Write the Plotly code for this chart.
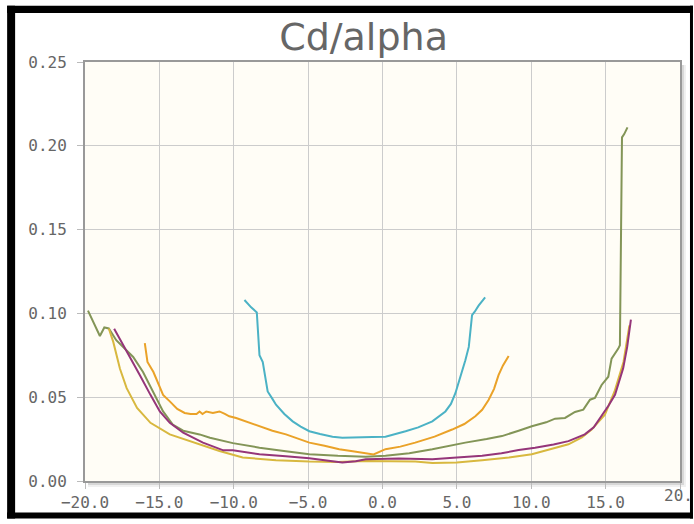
import plotly.graph_objects as go

# ---------------- data ----------------
cyan_a = [-9.28, -8.83, -8.45, -8.27, -8.05, -7.9, -7.72, -7.4, -7.16, -6.6, -6.04, -5.5, -4.92, -4.2,
          -3.36, -2.7, -2.0, -1.3, -0.68, 0.2, 0.9, 1.55, 2.4, 3.35, 4.23, 4.6, 4.9, 5.2, 5.57, 5.8,
          6.02, 6.2, 6.46, 6.9]
cyan_cd = [0.108, 0.1036, 0.1006, 0.075, 0.071, 0.062, 0.0534, 0.049, 0.0455, 0.040, 0.0356, 0.0325,
           0.0297, 0.028, 0.0264, 0.0258, 0.0258, 0.0262, 0.0262, 0.0264, 0.028, 0.0297, 0.032, 0.0356,
           0.0415, 0.046, 0.0524, 0.061, 0.072, 0.080, 0.099, 0.101, 0.1046, 0.1095]

orange_a = [-15.98, -15.8, -15.4, -14.75, -14.3, -13.8, -13.3, -12.9, -12.5, -12.3, -12.1, -11.85,
            -11.4, -10.96, -10.6, -10.3, -9.84, -9.0, -8.27, -7.4, -6.49, -5.7, -4.92, -3.9, -2.91,
            -2.0, -1.13, -0.6, 0.2, 1.2, 2.2, 3.5, 4.68, 5.5, 6.24, 6.7, 7.14, 7.5, 7.8, 8.1, 8.48]
orange_cd = [0.0823, 0.071, 0.065, 0.0514, 0.0475, 0.043, 0.0406, 0.040, 0.040, 0.0415, 0.040, 0.0415,
             0.0406, 0.0415, 0.040, 0.0386, 0.0376, 0.035, 0.0327, 0.030, 0.0278, 0.0255, 0.0229, 0.021,
             0.0189, 0.0177, 0.0165, 0.0158, 0.019, 0.0205, 0.0229, 0.0265, 0.0307, 0.034, 0.0386,
             0.0425, 0.0485, 0.055, 0.0632, 0.069, 0.0746]

green_a = [-19.8, -19.4, -19.0, -18.7, -18.4, -17.9, -17.1, -16.76, -16.1, -15.4, -14.75, -14.1, -13.4,
           -12.3, -11.6, -10.06, -8.27, -6.5, -4.92, -3.0, -1.13, 0.2, 1.8, 3.35, 5.57, 7.0, 8.03, 9.15,
           10.04, 11.0, 11.6, 12.27, 12.94, 13.5, 13.95, 14.28, 14.73, 15.18, 15.4, 15.85, 15.96, 16.1,
           16.25, 16.47]
green_cd = [0.1017, 0.094, 0.0865, 0.0916, 0.091, 0.084, 0.0766, 0.074, 0.065, 0.053, 0.0415, 0.0337,
            0.030, 0.0278, 0.0258, 0.0226, 0.0199, 0.0178, 0.016, 0.015, 0.0144, 0.015, 0.0165, 0.0189,
            0.0229, 0.025, 0.0268, 0.030, 0.0327, 0.035, 0.0372, 0.0376, 0.0412, 0.0426, 0.0485, 0.0495,
            0.0573, 0.0622, 0.073, 0.079, 0.081, 0.205, 0.207, 0.211]

purple_a = [-18.04, -17.6, -17.2, -16.3, -15.6, -14.97, -14.3, -13.4, -12.07, -10.7, -10.06, -9.2,
            -8.27, -6.5, -4.92, -3.5, -2.7, -1.8, -1.13, 1.1, 3.35, 5.0, 6.7, 8.0, 9.15, 10.26, 11.5,
            12.5, 13.6, 14.2, 14.73, 15.2, 15.63, 16.18, 16.45, 16.7]
purple_cd = [0.0908, 0.084, 0.077, 0.063, 0.0514, 0.0415, 0.0347, 0.0288, 0.0229, 0.0183, 0.0183,
             0.0172, 0.016, 0.0148, 0.0136, 0.012, 0.011, 0.0118, 0.013, 0.0134, 0.013, 0.014, 0.015,
             0.0165, 0.0185, 0.0199, 0.0218, 0.0238, 0.0278, 0.032, 0.0386, 0.045, 0.0514, 0.0672,
             0.080, 0.0963]

yellow_a = [-18.4, -18.1, -17.65, -17.2, -16.5, -15.6, -14.3, -12.7, -10.96, -9.4, -7.16, -4.92, -3.0,
            -1.13, 0.5, 2.2, 3.35, 5.0, 6.7, 8.5, 10.04, 11.3, 12.5, 13.4, 14.06, 14.95, 15.6, 16.2, 16.6]
yellow_cd = [0.091, 0.083, 0.067, 0.0554, 0.0436, 0.0347, 0.0278, 0.0229, 0.0179, 0.014, 0.0124,
             0.0116, 0.0113, 0.012, 0.0118, 0.0116, 0.0108, 0.011, 0.0124, 0.014, 0.016, 0.019, 0.0219,
             0.026, 0.0307, 0.0396, 0.0534, 0.071, 0.0928]

x_ticks = [-20, -15, -10, -5, 0, 5, 10, 15, 20]
y_ticks = [0.00, 0.05, 0.10, 0.15, 0.20, 0.25]
last_x_label = "20."   # right-most x tick label, cut off by the frame in the reference

series = [
    ("green", green_a, green_cd, "#839557"),
    ("yellow", yellow_a, yellow_cd, "#d8b83f"),
    ("purple", purple_a, purple_cd, "#953579"),
    ("orange", orange_a, orange_cd, "#EAA228"),
    ("cyan", cyan_a, cyan_cd, "#4bb2c5"),
]

# ---------------- layout geometry (pixels) ----------------
FW, FH = 694, 524
L, R, T, B = 85, 681, 62, 486
PW, PH = R - L, B - T


def px(x):
    return (x - L) / PW


def py(y):
    return (B - y) / PH


fig = go.Figure()
for name, a, cd, col in series:
    fig.add_trace(go.Scatter(x=a, y=cd, mode="lines", name=name,
                             line=dict(color=col, width=2), showlegend=False))

shapes = []
# plot shadow (right and bottom)
for off, op in [(2, 0.16), (4, 0.10), (6, 0.06)]:
    shapes.append(dict(type="rect", xref="paper", yref="paper", layer="below",
                       x0=px(R), x1=px(R + off), y0=py(B + off), y1=py(T + 3),
                       fillcolor="rgba(0,0,0,%.2f)" % op, line=dict(width=0)))
    shapes.append(dict(type="rect", xref="paper", yref="paper", layer="below",
                       x0=px(L + 3), x1=px(R), y0=py(B + off), y1=py(B),
                       fillcolor="rgba(0,0,0,%.2f)" % op, line=dict(width=0)))
# black frame
for x0, x1, y0, y1 in [(7, FW, 5, 12.5), (7, 15, 5, FH), (691, FW, 5, FH),
                       (7, FW, 518, FH)]:
    shapes.append(dict(type="rect", xref="paper", yref="paper", layer="above",
                       x0=px(x0), x1=px(x1), y0=py(y1), y1=py(y0),
                       fillcolor="black", line=dict(width=0)))

tickfont = dict(family="DejaVu Sans Mono", size=16, color="#666666")

fig.update_layout(
    width=FW, height=FH,
    margin=dict(l=L, r=FW - R, t=T, b=FH - B, pad=0),
    paper_bgcolor="white",
    plot_bgcolor="#fffdf6",
    title=dict(text="Cd/alpha", x=px(364), xref="paper", xanchor="center",
               y=1 - 37 / FH, yref="container", yanchor="middle",
               font=dict(family="DejaVu Sans", size=38, color="#666666")),
    xaxis=dict(range=[-20, 20], tickvals=x_ticks, tickformat=".1f", showgrid=True,
               gridcolor="#cccccc", gridwidth=1, zeroline=False, ticks="outside", ticklen=6,
               tickcolor="#bbbbbb", showline=True, linecolor="#999999", linewidth=2, mirror=True,
               tickfont=tickfont),
    yaxis=dict(range=[0, 0.25], tickvals=y_ticks, tickformat=".2f", showgrid=True,
               gridcolor="#cccccc", gridwidth=1, zeroline=False, ticks="outside", ticklen=6,
               tickcolor="#bbbbbb", showline=True, linecolor="#999999", linewidth=2, mirror=True,
               tickfont=tickfont, ticklabelstandoff=7),
    shapes=shapes,
    annotations=[dict(text=last_x_label, xref="paper", yref="paper", x=px(664), y=py(490),
                      xanchor="left", yanchor="top", showarrow=False, font=tickfont,
                      borderpad=0)],
)

fig.write_html("out.html", config={"displayModeBar": False},
               post_script="document.body.style.margin='0';document.body.style.overflow='hidden';")
